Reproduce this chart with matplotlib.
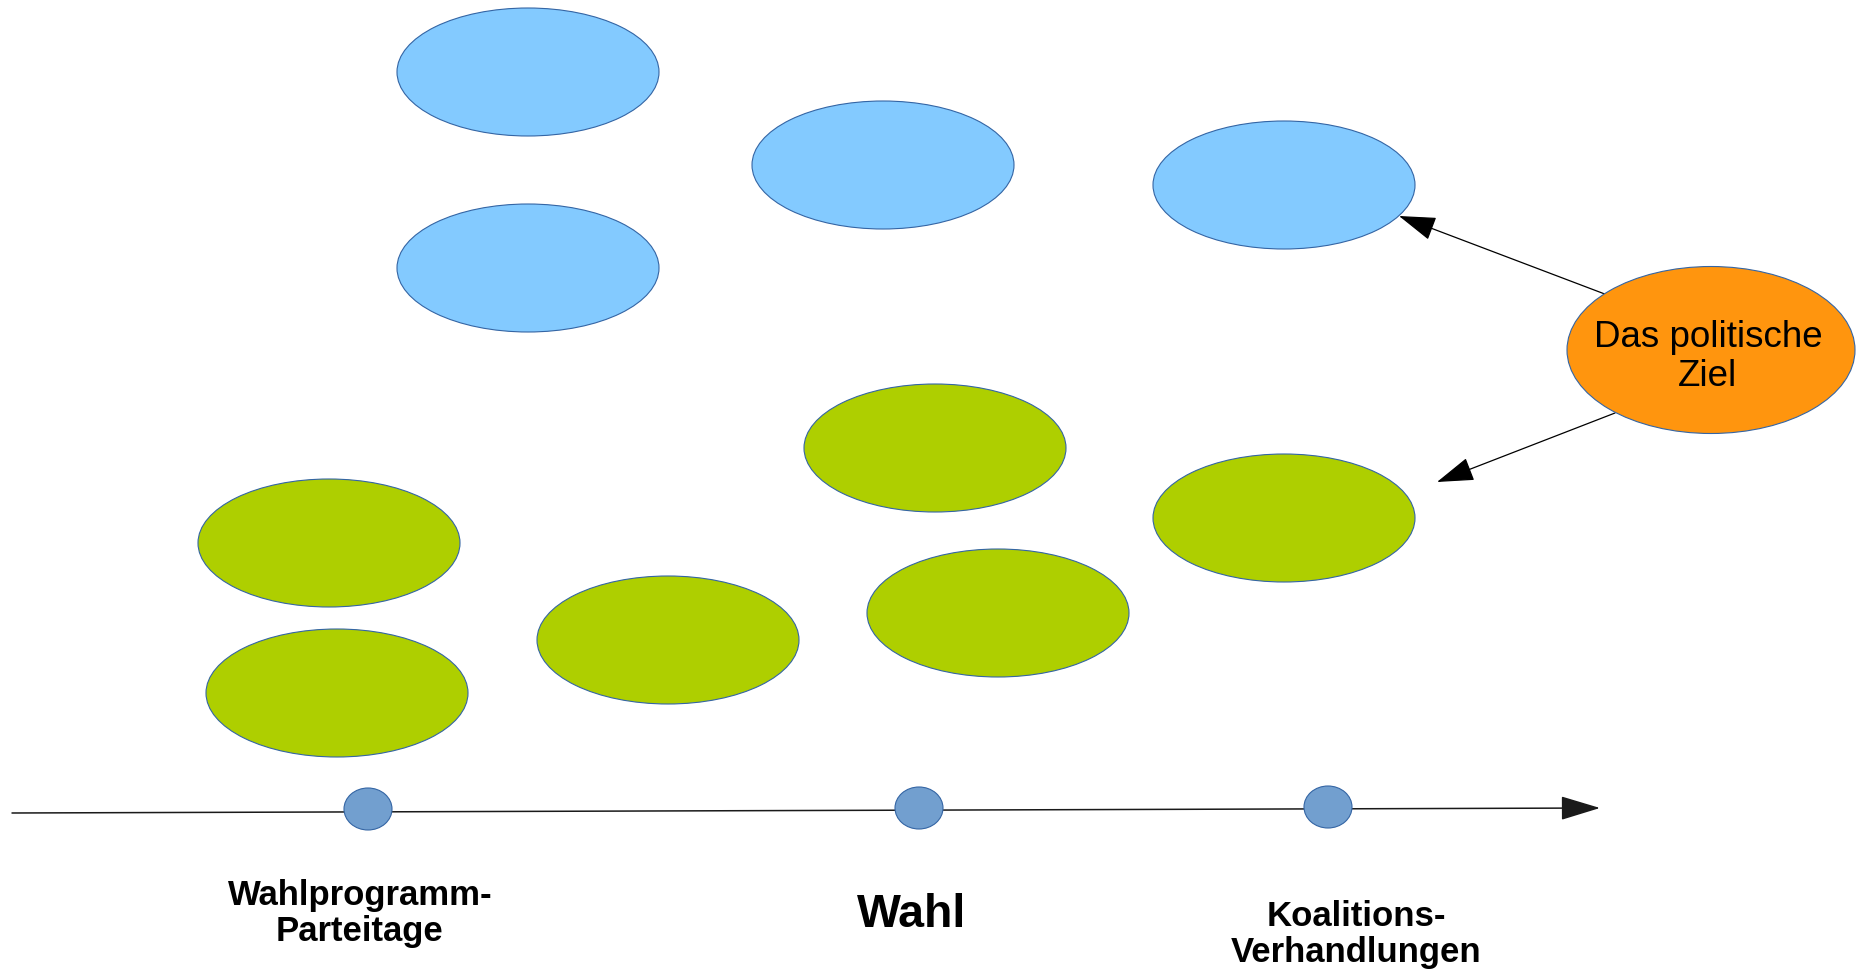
import matplotlib.pyplot as plt
from matplotlib.patches import Ellipse, FancyArrowPatch

plt.rcParams['font.family'] = ['Liberation Sans', 'DejaVu Sans']

W, H = 1858, 970

# Ellipsen (Mittelpunkt x, y in Pixel)
blue_x = [528, 528, 883, 1284]
blue_y = [73, 269, 166, 186]
green_x = [935, 329, 337, 668, 998, 1284]
green_y = [449, 544, 694, 641, 614, 519]
ell_w, ell_h = 262, 128

goal_x, goal_y = 1711, 351
goal_w, goal_h = 288, 167
goal_text = "Das politische\nZiel"

# Zeitstrahl
axis_start = (12, 814)
axis_end = (1600, 809)
dot_x = [368, 919, 1328]
dot_y = [810, 809, 808]
dot_w, dot_h = 48, 42

labels = ["Wahlprogramm-\nParteitage", "Wahl", "Koalitions-\nVerhandlungen"]
label_x = [360, 912, 1356]
# Grundlinie der letzten Zeile
label_y = [941, 927, 962]
label_size = [25, 33.5, 25]

# Pfeile vom Ziel
arrow_from = [(1610, 297), (1615, 414)]
arrow_to = [(1399, 217), (1437, 483)]

BLUE = '#83caff'
GREEN = '#aecf00'
ORANGE = '#ff950e'
DOT = '#729fcf'
EDGE = '#3465a4'

fig = plt.figure(figsize=(W / 100, H / 100), dpi=100)
ax = fig.add_axes([0, 0, 1, 1])
ax.set_xlim(0, W)
ax.set_ylim(H, 0)
ax.axis('off')

for x, y in zip(blue_x, blue_y):
    ax.add_patch(Ellipse((x, y), ell_w, ell_h, facecolor=BLUE, edgecolor=EDGE, linewidth=0.8))
for x, y in zip(green_x, green_y):
    ax.add_patch(Ellipse((x, y), ell_w, ell_h, facecolor=GREEN, edgecolor=EDGE, linewidth=0.8))

ax.add_patch(Ellipse((goal_x, goal_y), goal_w, goal_h, facecolor=ORANGE, edgecolor=EDGE, linewidth=0.8, zorder=2))
ax.text(goal_x - 3, goal_y + 6, goal_text, fontsize=26.5, ha='center', va='center',
        linespacing=1.18, color='black', zorder=3)

for a, b in zip(arrow_from, arrow_to):
    ax.add_patch(FancyArrowPatch(a, b, arrowstyle='-|>,head_length=23.5,head_width=7.6',
                                 mutation_scale=1, shrinkA=0, shrinkB=0,
                                 color='black', linewidth=0.9, zorder=1))

# Zeitstrahl mit Pfeilspitze
ax.add_patch(FancyArrowPatch(axis_start, axis_end, arrowstyle='-|>,head_length=25,head_width=7.6',
                             mutation_scale=1, shrinkA=0, shrinkB=0,
                             color='#1a1a1a', linewidth=1.1, zorder=1))
for x, y in zip(dot_x, dot_y):
    ax.add_patch(Ellipse((x, y), dot_w, dot_h, facecolor=DOT, edgecolor=EDGE, linewidth=0.8, zorder=2))

for text, x, y, s in zip(labels, label_x, label_y, label_size):
    ax.text(x, y, text, fontsize=s, fontweight='bold', ha='center', va='baseline',
            linespacing=1.12, color='black')

fig.savefig('out.png', dpi=100)
